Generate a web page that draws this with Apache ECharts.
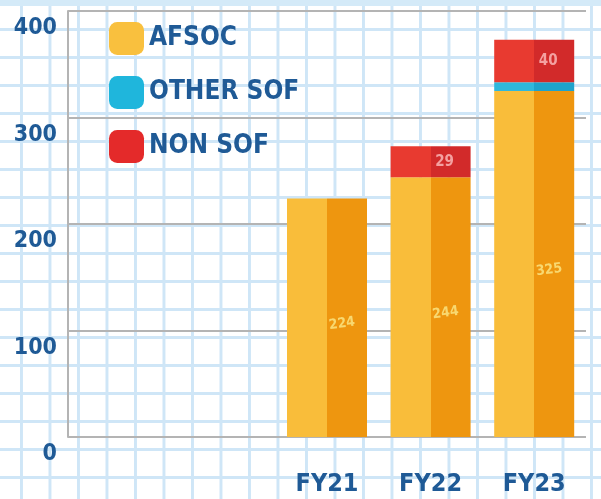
<!DOCTYPE html>
<html>
<head>
<meta charset="utf-8">
<script src="https://cdn.jsdelivr.net/npm/echarts@6/dist/echarts.min.js"></script>
<style>
html, body { margin: 0; padding: 0; }
body {
	width: 601px; height: 499px; overflow: hidden;
	background-color: #ffffff;
	/* graph paper */
	background-image:
		linear-gradient(to bottom, #d4eaf8 0, #d4eaf8 6px, transparent 6px),
		linear-gradient(to right, #cfe6f7 3px, transparent 3px),
		linear-gradient(to bottom, #cfe6f7 3px, transparent 3px);
	background-size: 601px 499px, 28.5px 28px, 28.5px 28px;
	background-position: 0 0, 20px 0, 0 0;
	background-repeat: no-repeat, repeat, repeat;
}
#chart { width: 601px; height: 499px; }
</style>
</head>
<body>
<div id="chart"></div>
<script>
// 数据
var years = ['', ' ', 'FY21', 'FY22', 'FY23'];
var yTicks = [0, 100, 200, 300, 400];
var afsoc = [null, null, 224, 244, 325];
var otherSof = [null, null, null, null, 8];
var nonSof = [null, null, null, 29, 40];

var blue = '#1f5a96';
var font = '"DejaVu Sans Condensed", "DejaVu Sans", sans-serif';

function face(l, r) {
	// two-tone front for the boxy look
	return {
		type: 'linear', x: 0, y: 0, x2: 1, y2: 0,
		colorStops: [
			{offset: 0, color: l}, {offset: 0.5, color: l},
			{offset: 0.5, color: r}, {offset: 1, color: r}
		]
	};
}

var chart = echarts.init(document.getElementById('chart'));
var option = {
	animation: false,
	backgroundColor: 'transparent',
	grid: {left: 68, right: 15, top: 11, bottom: 62},
	legend: {
		orient: 'vertical', left: 104, top: 17,
		itemWidth: 35, itemHeight: 33, itemGap: 21,
		icon: 'roundRect',
		textStyle: {color: blue, fontFamily: font, fontWeight: 'bold', fontSize: 26},
		data: [
			{name: 'AFSOC', itemStyle: {color: '#f9c03e'}},
			{name: 'OTHER SOF', itemStyle: {color: '#1fb6dc'}},
			{name: 'NON SOF', itemStyle: {color: '#e42a2a'}}
		]
	},
	xAxis: {
		type: 'category',
		data: years,
		axisLine: {show: false},
		axisTick: {show: false},
		axisLabel: {color: blue, fontFamily: font, fontWeight: 'bold', fontSize: 25, margin: 35}
	},
	yAxis: {
		type: 'value',
		min: yTicks[0], max: yTicks[yTicks.length - 1], interval: 100,
		axisLine: {show: true, lineStyle: {color: '#b4b4b4', width: 2}},
		axisTick: {show: false},
		axisLabel: {
			color: blue, fontFamily: font, fontWeight: 'bold', fontSize: 23,
			margin: 11, verticalAlign: 'top', padding: [6, 0, 0, 0]
		},
		splitLine: {lineStyle: {color: '#b4b4b4', width: 2}}
	},
	series: [
		{
			name: 'AFSOC', type: 'bar', stack: 'a', barWidth: 80,
			data: afsoc,
			itemStyle: {color: face('#f9bd3a', '#ee960f')},
			label: {show: true, position: 'inside', offset: [14, 8], rotate: 8,
				color: '#f8d870', fontWeight: 'bold', fontSize: 14, fontFamily: font}
		},
		{
			name: 'OTHER SOF', type: 'bar', stack: 'a', barWidth: 80,
			data: otherSof,
			itemStyle: {color: face('#2fb8dc', '#1ea3cc')}
		},
		{
			name: 'NON SOF', type: 'bar', stack: 'a', barWidth: 80,
			data: nonSof,
			itemStyle: {color: face('#e83a30', '#d22a2a')},
			label: {show: true, position: 'inside', offset: [14, 0],
				color: '#f4a0a0', fontWeight: 'bold', fontSize: 15, fontFamily: font}
		}
	]
};
chart.setOption(option, true);
</script>
</body>
</html>
